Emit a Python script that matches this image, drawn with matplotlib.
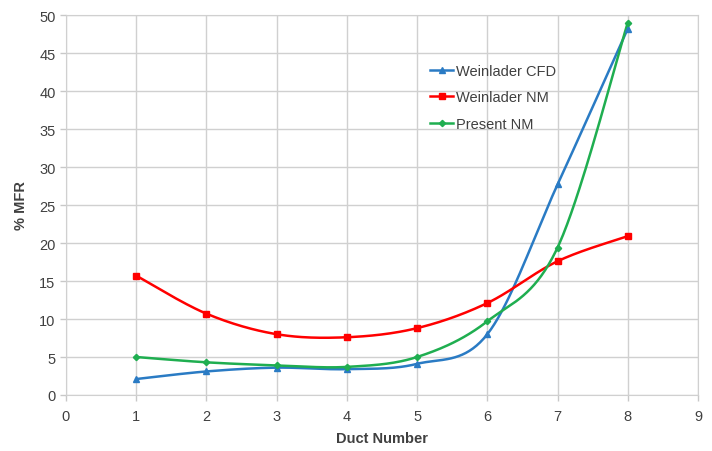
import numpy as np
import matplotlib
matplotlib.use("Agg")
import matplotlib.pyplot as plt

ducts = [1, 2, 3, 4, 5, 6, 7, 8]
weinlader_cfd = [2.1, 3.1, 3.6, 3.4, 4.1, 8.0, 27.7, 48.2]
weinlader_nm = [15.7, 10.7, 8.0, 7.6, 8.8, 12.1, 17.6, 20.9]
present_nm = [5.0, 4.3, 3.9, 3.7, 5.0, 9.7, 19.4, 49.0]
x_ticks = list(range(0, 10))
y_ticks = list(range(0, 55, 5))


def smooth(xs, ys, n=40):
    xs = np.asarray(xs, float)
    ys = np.asarray(ys, float)
    P = np.column_stack([xs, ys])
    P = np.vstack([P[0], P, P[-1]])
    out = []
    t = np.linspace(0, 1, n)[:, None]
    for i in range(1, len(P) - 2):
        p0, p1, p2, p3 = P[i - 1], P[i], P[i + 1], P[i + 2]
        c1 = p1 + (p2 - p0) / 6.0
        c2 = p2 - (p3 - p1) / 6.0
        seg = ((1 - t) ** 3) * p1 + 3 * ((1 - t) ** 2) * t * c1 + 3 * (1 - t) * t ** 2 * c2 + t ** 3 * p2
        out.append(seg if i == 1 else seg[1:])
    seg = np.vstack(out)
    return seg[:, 0], seg[:, 1]


plt.rcParams['font.family'] = ['Liberation Sans', 'DejaVu Sans']
fig = plt.figure(figsize=(7.12, 4.52), dpi=100)
ax = fig.add_axes([66 / 712, 1 - 396 / 452, (698 - 66) / 712, (396 - 16) / 452])

series = [
    ("Weinlader CFD", weinlader_cfd, '#2a7bc4', '^', 4.5),
    ("Weinlader NM", weinlader_nm, '#ff0000', 's', 4.5),
    ("Present NM", present_nm, '#1fae50', 'D', 3.2),
]
for label, ys, col, mk, ms in series:
    sx, sy = smooth(ducts, ys)
    ax.plot(sx, sy, color=col, lw=1.8, zorder=3)
    ax.plot(ducts, ys, linestyle='none', marker=mk, ms=ms, color=col, zorder=4)
    ax.plot([], [], color=col, lw=1.8, marker=mk, ms=ms, label=label)

ax.set_xlim(0, 9)
ax.set_ylim(0, 50)
ax.set_xticks(x_ticks)
ax.set_yticks(y_ticks)
ax.grid(True, color='#d0d0d0', lw=1.0)
ax.set_axisbelow(True)
for s in ax.spines.values():
    s.set_color('#d0d0d0')
ax.tick_params(axis='both', colors='#c8c8c8', labelcolor='#404040', labelsize=10.5, length=4, width=1)
ax.tick_params(axis='x', pad=6)
ax.set_xlabel('Duct Number', fontsize=10.5, fontweight='bold', color='#404040', labelpad=6)
ax.set_ylabel('% MFR', fontsize=10.5, fontweight='bold', color='#404040', labelpad=8)

leg = ax.legend(loc='upper left', bbox_to_anchor=(0.555, 0.906), frameon=False,
                fontsize=10.5, labelspacing=0.85, handlelength=1.6, handletextpad=0.2,
                labelcolor='#404040')

fig.savefig('out.png', dpi=100)
